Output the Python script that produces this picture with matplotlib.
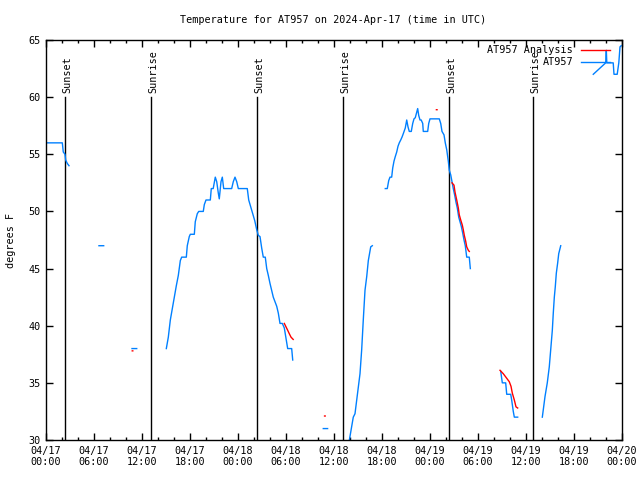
import numpy as np
import matplotlib
matplotlib.use("Agg")
import matplotlib.pyplot as plt
from matplotlib.ticker import FixedLocator, MultipleLocator

nan = np.nan

# hours since 2024-04-17 00:00 UTC; nan in temp marks a gap in the record
obs_hours = [0, 2.04, 2.16, 2.375, 2.46, 2.66, 2.875, 3.0,
             6.62, 7.21, 8.0,
             10.75, 11.34, 12.0,
             15.04, 15.29, 15.54, 15.79, 16.04, 16.29, 16.54, 16.79, 16.96, 17.54,
             17.66, 17.91, 18.04, 18.54, 18.66, 18.91, 19.09, 19.66, 19.79, 20.0,
             20.54, 20.66, 20.9, 21.16, 21.34, 21.54, 21.66, 21.875, 22.04, 22.21,
             23.21, 23.41, 23.625, 23.84, 24.04, 25.16, 25.34, 25.59, 25.84, 26.09,
             26.34, 26.54, 26.75, 26.96, 27.16, 27.41, 27.59, 27.79, 28.0, 28.21,
             28.41, 28.625, 28.84, 29.04, 29.25, 29.54, 29.79, 30.0, 30.21, 30.71,
             30.84, 31.0,
             34.66, 35.2, 36.0,
             37.8, 38.41, 38.625, 38.84, 39.25, 39.46, 39.66, 39.875, 40.09, 40.29,
             40.59, 40.79, 41.5,
             42.41, 42.66, 42.84, 43.0, 43.21, 43.34, 43.5, 43.66, 43.84, 44.0,
             44.16, 44.34, 44.5, 44.66, 44.91, 45.09, 45.25, 45.41, 45.66, 45.84,
             46.0, 46.16, 46.34, 46.46, 46.59, 46.75, 46.9, 47.09, 47.16, 47.71,
             47.84, 48.0, 49.16, 49.34, 49.5, 49.75, 49.91, 50.09, 50.29, 50.41,
             50.59, 50.75, 50.91, 51.09, 51.25, 51.41, 51.59, 51.75, 51.91, 52.09,
             52.25, 52.41, 52.59, 52.91, 53.04, 54.0,
             56.84, 57.04, 57.46, 57.59, 58.09, 58.21, 58.41, 58.54, 58.96, 60.0,
             62.04, 62.375, 62.66, 62.91, 63.125, 63.29, 63.41, 63.54, 63.66, 63.79,
             63.96, 64.09, 64.34, 66.0,
             68.41, 69.96, 70.04, 70.1, 70.9, 71.0, 71.4, 71.6, 71.75, 71.9]
obs_temp = [56, 56, 55.2, 55, 54.5, 54.2, 54, nan,
            47, 47, nan,
            38, 38, nan,
            38, 39, 40.5, 41.5, 42.5, 43.5, 44.4, 45.7, 46, 46,
            47, 47.8, 48, 48, 49.1, 49.8, 50, 50, 50.6, 51,
            51, 52, 52, 53, 52.6, 51.6, 51.1, 52.6, 53, 52,
            52, 52.6, 53, 52.6, 52, 52, 51, 50.4, 49.8, 49.2,
            48.4, 47.9, 47.8, 46.8, 46, 46, 45, 44.4, 43.7, 43.1,
            42.5, 42.1, 41.7, 41.1, 40.2, 40.2, 39.8, 38.9, 38, 38,
            37, nan,
            31, 31, nan,
            29.5, 32, 32.3, 33.5, 35.8, 37.9, 40.5, 43.1, 44.3, 45.7,
            46.9, 47, nan,
            52, 52, 52.7, 53, 53, 53.8, 54.4, 54.8, 55.2, 55.7,
            56, 56.25, 56.5, 56.8, 57.3, 58, 57.4, 57, 57, 57.7,
            58.1, 58.2, 58.7, 59, 58.4, 58, 58, 57.7, 57, 57,
            57.7, 58.1, 58.1, 57.7, 57, 56.7, 56, 55.4, 54.4, 53.6,
            53.2, 52.6, 52, 51.4, 50.8, 50.3, 49.5, 49.1, 48.7, 48.1,
            47.5, 47, 46, 46, 45, nan,
            36, 35, 35, 34, 34, 33.5, 32.5, 32, 32, nan,
            32, 33.8, 35, 36.4, 38.2, 39.6, 41.1, 42.5, 43.4, 44.6,
            45.5, 46.3, 47, nan,
            62, 63, 64.1, 63, 63, 62, 62, 63, 64.4, 64.5]

ana_hours = [10.78, 10.85, 11.0,
             29.79, 30.0, 30.21, 30.41, 30.625, 30.9, 31.0,
             34.82, 34.9, 35.0,
             48.8, 48.88, 49.0,
             50.75, 51.0, 51.125, 51.34, 51.54, 51.66, 51.84, 52.04, 52.16, 52.29,
             52.46, 52.59, 52.79, 52.91, 53.0,
             56.75, 57.16, 57.59, 57.91, 58.125, 58.29, 58.54, 58.75, 58.96]
ana_temp = [37.8, 37.8, nan,
            40.2, 39.9, 39.6, 39.3, 39.0, 38.8, nan,
            32.1, 32.1, nan,
            58.9, 58.9, nan,
            52.5, 52.3, 51.7, 51, 50.3, 49.7, 49.25, 48.8, 48.4, 47.9,
            47.4, 46.9, 46.6, 46.5, nan,
            36.1, 35.8, 35.4, 35.1, 34.7, 34.1, 33.5, 32.9, 32.8]

sun_hours = [2.375, 13.125, 26.375, 37.125, 50.375, 60.875]
sun_labels = ["Sunset", "Sunrise", "Sunset", "Sunrise", "Sunset", "Sunrise"]

tick_hours = list(range(0, 73, 6))
tick_labels = ["04/17\n00:00", "04/17\n06:00", "04/17\n12:00", "04/17\n18:00",
               "04/18\n00:00", "04/18\n06:00", "04/18\n12:00", "04/18\n18:00",
               "04/19\n00:00", "04/19\n06:00", "04/19\n12:00", "04/19\n18:00",
               "04/20\n00:00"]

plt.rcParams['font.family'] = ['DejaVu Sans Mono']
fs = 7.3

fig = plt.figure(figsize=(6.4, 4.8), dpi=100)
ax = fig.add_axes([46 / 640, 40 / 480, 576 / 640, 400 / 480])

blue = '#0080ff'
red = '#ff0000'

for h, lab in zip(sun_hours, sun_labels):
    ax.plot([h, h], [30, 60], color='black', lw=1.0)
    ax.text(h + 0.25, 60.4, lab, rotation=90, ha='center', va='bottom', fontsize=fs)

ax.plot(obs_hours, obs_temp, color=blue, lw=1.0)
ax.plot(ana_hours, ana_temp, color=red, lw=1.0)

ax.set_xlim(0, 72)
ax.set_ylim(30, 65)
ax.xaxis.set_major_locator(FixedLocator(tick_hours))
ax.set_xticklabels(tick_labels)
ax.xaxis.set_minor_locator(MultipleLocator(2))
ax.yaxis.set_major_locator(MultipleLocator(5))
ax.tick_params(which='both', direction='in', top=True, right=True, labelsize=fs,
               color='black', width=1.0)
ax.tick_params(which='major', length=5, pad=4)
ax.tick_params(which='minor', length=2.5)
for s in ax.spines.values():
    s.set_linewidth(1.0)

ax.set_ylabel("degrees F", fontsize=fs)
ax.yaxis.set_label_coords(-30 / 576, 0.5)
fig.text(333 / 640, 1 - 20 / 480, "Temperature for AT957 on 2024-Apr-17 (time in UTC)",
         ha='center', va='center', fontsize=fs)

# legend, gnuplot style: text right-aligned, sample to the right
leg = [("AT957 Analysis", red, 0.976), ("AT957", blue, 0.944)]
for lab, col, yy in leg:
    ax.text(0.915, yy, lab, transform=ax.transAxes, ha='right', va='center', fontsize=fs)
    ax.plot([0.9288, 0.979], [yy, yy], transform=ax.transAxes, color=col, lw=1.0)

fig.savefig("out.png", dpi=100)
